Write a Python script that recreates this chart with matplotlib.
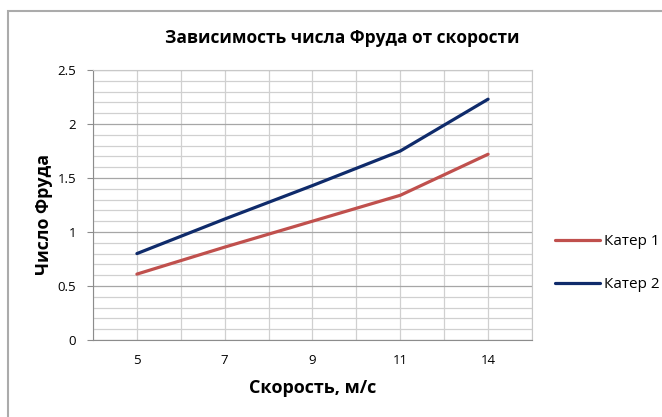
import matplotlib.pyplot as plt
from matplotlib.patches import Rectangle
from matplotlib.ticker import MultipleLocator

plt.rcParams['font.family'] = ['Open Sans', 'DejaVu Sans']

speeds = ['5', '7', '9', '11', '14']
boat1 = [0.61, 0.86, 1.10, 1.34, 1.72]
boat2 = [0.80, 1.12, 1.43, 1.75, 2.23]

fig = plt.figure(figsize=(6.62, 4.17), dpi=100)
ax = fig.add_axes([0.1405, 0.1847, 0.6631, 0.6474])

x = range(len(speeds))
ax.plot(x, boat1, color='#C0504D', lw=2.3, label='Катер 1', solid_capstyle='round')
ax.plot(x, boat2, color='#0F2B6B', lw=2.3, label='Катер 2', solid_capstyle='round')

ax.set_xlim(-0.5, len(speeds) - 0.5)
ax.set_ylim(0, 2.5)
ax.set_xticks(list(x))
ax.set_xticklabels(speeds)
ax.yaxis.set_major_locator(MultipleLocator(0.5))
ax.yaxis.set_minor_locator(MultipleLocator(0.1))
ax.xaxis.set_minor_locator(MultipleLocator(0.5))
ax.yaxis.set_major_formatter(plt.FuncFormatter(lambda v, p: f'{v:g}'))

ax.grid(which='major', axis='y', color='#A6A6A6', lw=0.9)
ax.grid(which='minor', axis='y', color='#D0D0D0', lw=0.9)
ax.grid(which='both', axis='x', color='#D0D0D0', lw=0.9)
ax.set_axisbelow(True)

for side in ['top', 'right']:
    ax.spines[side].set_color('#C8C8C8')
for side in ['left', 'bottom']:
    ax.spines[side].set_color('#8C8C8C')
ax.tick_params(axis='y', which='major', length=4, color='#8C8C8C', labelsize=9.5, pad=8)
ax.tick_params(axis='y', which='minor', length=0)
ax.tick_params(axis='x', which='both', length=0, labelsize=9.5, pad=10)

fig.text(0.517, 0.909, 'Зависимость числа Фруда от скорости', fontsize=12.5,
         fontweight='bold', ha='center', va='center')
ax.set_xlabel('Скорость, м/с', fontsize=13, fontweight='bold', labelpad=9)
fig.text(0.066, 0.4855, 'Число Фруда', fontsize=12.8, fontweight='bold',
         rotation=90, ha='center', va='center')

fig.legend(loc='center left', bbox_to_anchor=(0.818, 0.369), frameon=False,
           fontsize=11, labelspacing=1.8, handlelength=2.9, handletextpad=0.3)

# chart frame, clipped on the right and bottom
fig.patches.append(Rectangle((0.0128, -0.1), 1.1, 1.0748, transform=fig.transFigure,
                             fill=False, edgecolor='#ABABAB', lw=1.5))

fig.savefig('out.png', dpi=100)
